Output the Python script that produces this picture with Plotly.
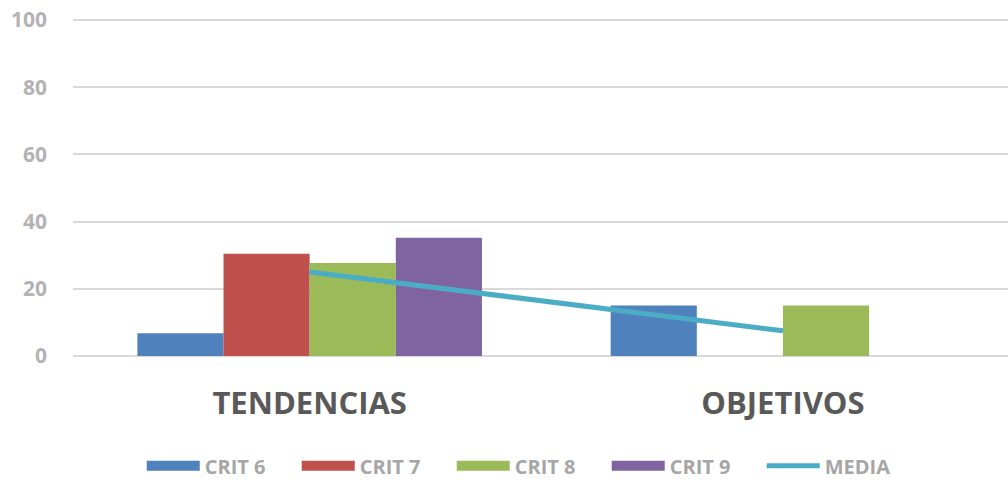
import plotly.graph_objects as go

categories = ["TENDENCIAS", "OBJETIVOS"]
crit6 = [6.8, 15]
crit7 = [30.4, 0]
crit8 = [27.7, 15]
crit9 = [35.2, 0]
media = [25.0, 7.5]
series_names = ["CRIT 6", "CRIT 7", "CRIT 8", "CRIT 9"]
series_values = [crit6, crit7, crit8, crit9]
series_colors = ["#4F81BD", "#C0504D", "#9BBB59", "#8064A2"]
y_ticks = [0, 20, 40, 60, 80, 100]

FONT = "Open Sans"

fig = go.Figure()
for name, vals, col in zip(series_names, series_values, series_colors):
    fig.add_trace(go.Bar(x=categories, y=vals, name=name, showlegend=False,
                         marker=dict(color=col, line=dict(width=0))))
# legend swatches (wide rectangles, as in the reference)
for name, col in zip(series_names, series_colors):
    fig.add_trace(go.Scatter(x=[None], y=[None], name=name, mode="lines",
                             line=dict(color=col, width=14)))
fig.add_trace(go.Scatter(x=categories, y=media, name="MEDIA", mode="lines",
                         line=dict(color="#4BACC6", width=5)))

fig.update_layout(
    width=1008, height=480,
    margin=dict(l=73, r=0, t=18, b=124, autoexpand=False),
    plot_bgcolor="white", paper_bgcolor="white",
    barmode="group", bargap=0.272, bargroupgap=0,
    font=dict(family=FONT),
    showlegend=True,
    legend=dict(orientation="h", x=0.0735, xanchor="left", y=-0.325, yanchor="middle",
                font=dict(family=FONT, size=20, color="#A6A6A6", weight="bold"),
                entrywidth=87, entrywidthmode="pixels", itemwidth=53,
                traceorder="normal", bgcolor="rgba(0,0,0,0)"),
    hovermode=False,
)
fig.update_xaxes(type="category", range=[-0.5, 1.4755], showgrid=False, showline=False,
                 ticks="", automargin=False,
                 tickfont=dict(family=FONT, size=31, color="#595959", weight="bold"),
                 ticklabelstandoff=26)
fig.update_yaxes(range=[0, 100.6], tickvals=y_ticks, showgrid=True, gridcolor="#D9D9D9", gridwidth=1.5,
                 zeroline=True, zerolinecolor="#D9D9D9", zerolinewidth=1.5, showline=False, ticks="",
                 automargin=False,
                 tickfont=dict(family=FONT, size=21, color="#B3B3B3", weight="bold"),
                 ticklabelstandoff=25)

fig.write_html("out.html", config={"displayModeBar": False},
               post_script="document.body.style.margin='0';")
